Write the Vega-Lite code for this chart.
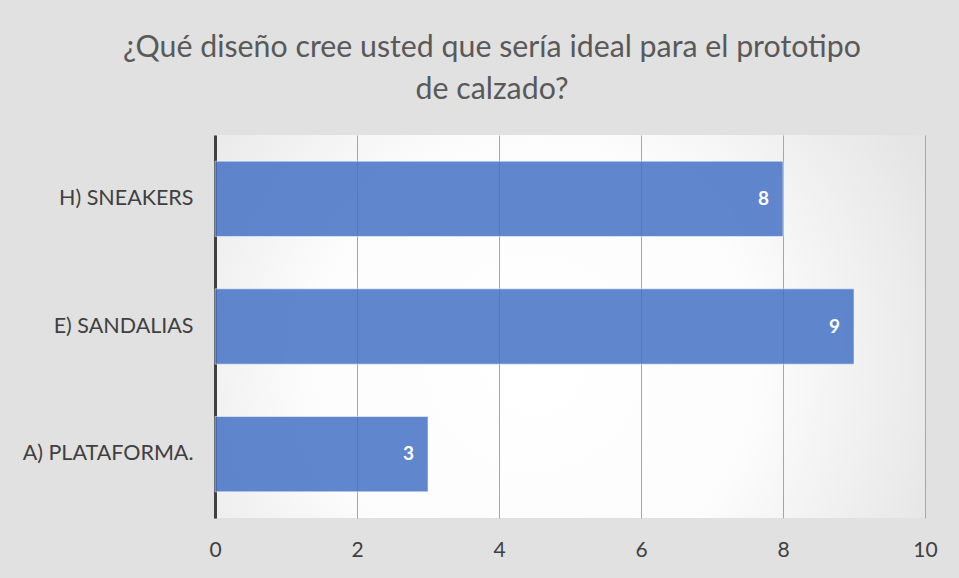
{
  "$schema": "https://vega.github.io/schema/vega-lite/v6.json",
  "width": 710,
  "height": 383,
  "autosize": "none",
  "padding": {"left": 215, "top": 135, "right": 34, "bottom": 60},
  "background": "#e1e1e1",
  "config": {
    "view": {
      "stroke": null,
      "fill": {
        "gradient": "radial",
        "x1": 0.45, "y1": 0.55, "r1": 0,
        "x2": 0.45, "y2": 0.55, "r2": 0.8,
        "stops": [
          {"offset": 0, "color": "#ffffff"},
          {"offset": 0.4, "color": "#fcfcfc"},
          {"offset": 1, "color": "#d6d6d6"}
        ]
      }
    },
    "font": "Lato"
  },
  "title": {
    "text": ["¿Qué diseño cree usted que sería ideal para el prototipo", "de calzado?"],
    "font": "Lato",
    "fontSize": 30.3,
    "fontWeight": "normal",
    "color": "#595959",
    "lineHeight": 42,
    "anchor": "middle",
    "dx": -78,
    "offset": 30
  },
  "data": {
    "values": [
      {"diseno": "H) SNEAKERS", "n": 8},
      {"diseno": "E) SANDALIAS", "n": 9},
      {"diseno": "A) PLATAFORMA.", "n": 3}
    ]
  },
  "encoding": {
    "y": {
      "field": "diseno",
      "type": "nominal",
      "sort": null,
      "scale": {"paddingInner": 0.41, "paddingOuter": 0.205},
      "axis": {
        "title": null,
        "ticks": false,
        "domainColor": "#404040",
        "domainWidth": 3,
        "labelFontSize": 21.5,
        "labelColor": "#404040",
        "labelFont": "Lato",
        "labelPadding": 22
      }
    },
    "x": {
      "field": "n",
      "type": "quantitative",
      "scale": {"domain": [0, 10]},
      "axis": {
        "title": null,
        "values": [0, 2, 4, 6, 8, 10],
        "domain": false,
        "ticks": false,
        "grid": true,
        "gridColor": "#a6a6a6",
        "gridWidth": 1,
        "labelFlush": false,
        "labelFontSize": 21,
        "labelColor": "#404040",
        "labelFont": "Lato",
        "labelPadding": 21
      }
    }
  },
  "layer": [
    {
      "mark": {"type": "bar", "fill": "#4472C4", "fillOpacity": 0.85, "stroke": "#ffffff", "strokeOpacity": 0.5, "strokeWidth": 1}
    },
    {
      "mark": {"type": "text", "align": "right", "dx": -14, "color": "#ffffff", "fontSize": 19, "fontWeight": "bold", "font": "Lato"},
      "encoding": {"text": {"field": "n", "type": "quantitative"}}
    }
  ]
}
